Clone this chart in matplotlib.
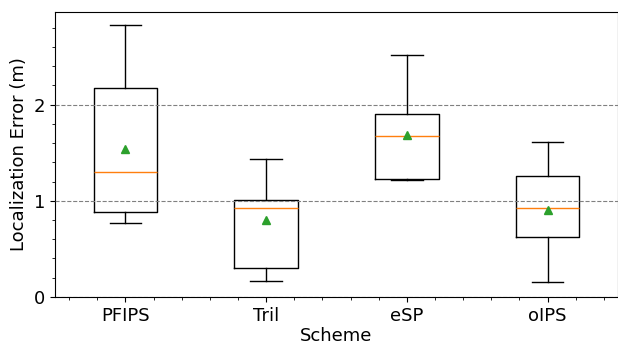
import matplotlib
matplotlib.use("Agg")
import matplotlib.pyplot as plt
from matplotlib.ticker import AutoMinorLocator, MultipleLocator

# box statistics
schemes = ["PFIPS", "Tril", "eSP", "oIPS"]
whislo = [0.77, 0.17, 1.22, 0.15]
q1 = [0.88, 0.30, 1.23, 0.62]
med = [1.30, 0.93, 1.67, 0.93]
q3 = [2.17, 1.01, 1.90, 1.26]
whishi = [2.83, 1.43, 2.52, 1.61]
means = [1.54, 0.80, 1.68, 0.90]

stats = []
for i in range(len(schemes)):
    stats.append(dict(label=schemes[i], whislo=whislo[i], q1=q1[i], med=med[i],
                      q3=q3[i], whishi=whishi[i], mean=means[i], fliers=[]))

fig = plt.figure(figsize=(6.18, 3.44), dpi=100)
ax = fig.add_axes([0.089, 0.137, 0.911, 0.828])

ax.bxp(stats, showmeans=True, widths=0.45)
ax.set_ylim(bottom=0)
ax.set_xlim(0.5, 4.5)

ax.yaxis.set_major_locator(MultipleLocator(1))
ax.set_axisbelow(False)
ax.yaxis.grid(True, which="major", linestyle="--", color="gray", linewidth=0.8)
ax.xaxis.set_minor_locator(AutoMinorLocator(5))
ax.yaxis.set_minor_locator(AutoMinorLocator(5))

ax.set_xlabel("Scheme", fontsize=13, labelpad=2)
ax.set_ylabel("Localization Error (m)", fontsize=13)
ax.tick_params(axis="both", which="major", labelsize=13)

fig.savefig("out.png", dpi=100)
